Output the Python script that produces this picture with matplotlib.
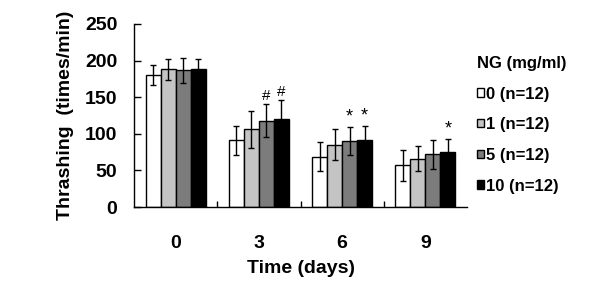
import numpy as np
import matplotlib
matplotlib.use('Agg')
import matplotlib.pyplot as plt

plt.rcParams['font.family'] = ['Liberation Sans', 'DejaVu Sans']
plt.rcParams['font.weight'] = 'bold'

days = ['0', '3', '6', '9']
groups = ['0 (n=12)', '1 (n=12)', '5 (n=12)', '10 (n=12)']
means = [
    [180, 91, 69, 57],
    [188, 106, 85, 66],
    [187, 118, 90, 72],
    [188, 120, 91, 75],
]
errors = [
    [14, 20, 20, 21],
    [14, 25, 21, 17],
    [17, 22, 19, 20],
    [14, 26, 20, 18],
]
# significance marks: (group index, day index, symbol)
marks = [(2, 1, '#'), (3, 1, '#'), (2, 2, '*'), (3, 2, '*'), (3, 3, '*')]

colors = ['white', '#c4c4c4', '#7c7c7c', 'black']

fig = plt.figure(figsize=(5.92, 2.88), dpi=100)
ax = fig.add_axes([0.2264, 0.281, 0.5625, 0.636])

x = np.arange(len(days))
w = 0.18
handles = []
for i in range(len(groups)):
    pos = x + (i - 1.5) * w
    b = ax.bar(pos, means[i], w, color=colors[i], edgecolor='black', linewidth=1.0,
               yerr=errors[i], error_kw=dict(ecolor='black', elinewidth=1.0, capsize=2.5, capthick=1.0),
               label=groups[i])
    handles.append(b)

for gi, di, sym in marks:
    top = means[gi][di] + errors[gi][di]
    ax.text(x[di] + (gi - 1.5) * w, top + 2, sym, ha='center', va='bottom',
            fontsize=11 if sym == '#' else 13, fontweight='normal')

ax.set_xlim(-0.5, 3.5)
ax.set_ylim(0, 250)
ax.set_yticks([0, 50, 100, 150, 200, 250])
ax.set_xticks(x)
ax.set_xticklabels(days)
ax.set_xticks([0.5, 1.5, 2.5], minor=True)
ax.tick_params(axis='x', which='major', length=0, pad=20, labelsize=14)
ax.tick_params(axis='x', which='minor', direction='in', length=4, width=1)
ax.tick_params(axis='y', direction='in', length=5, width=1, pad=12, labelsize=14)
for s in ['top', 'right']:
    ax.spines[s].set_visible(False)
for s in ['left', 'bottom']:
    ax.spines[s].set_linewidth(1.0)

ax.set_xlabel('Time (days)', fontsize=14, fontweight='bold', labelpad=6)
ax.set_ylabel('Thrashing  (times/min)', fontsize=14, fontweight='bold', labelpad=8)

leg = ax.legend(handles=handles, labels=groups, title='NG (mg/ml)', frameon=False,
                loc='upper left', bbox_to_anchor=(1.0, 0.88), fontsize=12,
                title_fontproperties={'weight': 'bold', 'size': 12},
                handlelength=0.4, handleheight=0.4, handletextpad=0.15,
                labelspacing=0.94, borderaxespad=0.2)
leg._legend_box.align = 'left'

fig.savefig('out.png', dpi=100)
